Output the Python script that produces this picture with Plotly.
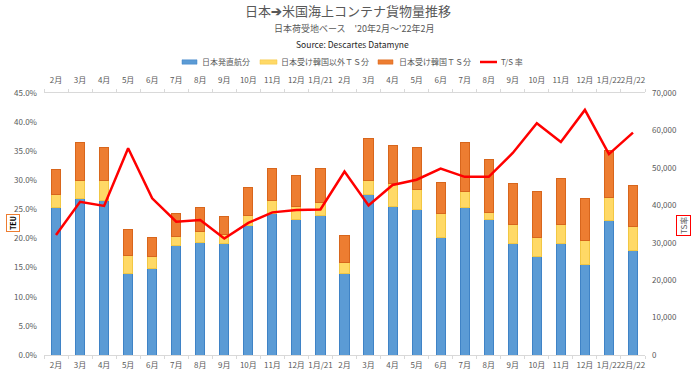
import plotly.graph_objects as go

months = ['2月', '3月', '4月', '5月', '6月', '7月', '8月', '9月', '10月', '11月', '12月', '1月/21',
          '2月', '3月', '4月', '5月', '6月', '7月', '8月', '9月', '10月', '11月', '12月', '1月/22', '2月/22']

direct_teu = [39500, 41900, 41150, 21800, 23000, 29200, 30100, 29800, 34550, 37850, 36250, 37400,
              21700, 43000, 39650, 38750, 31450, 39450, 36250, 29850, 26250, 29850, 24250, 36050, 28050]
ts_other_teu = [3500, 4700, 5400, 4700, 3300, 2400, 3000, 2500, 2850, 3350, 3450, 3400,
                2950, 3750, 6250, 5550, 6400, 4200, 1950, 4900, 5100, 5150, 6300, 6050, 6400]
ts_korea_teu = [6600, 10250, 8900, 7150, 5200, 6250, 6250, 4800, 7300, 8650, 8350, 9000,
                7150, 11050, 9950, 11150, 8350, 13200, 14100, 10950, 12450, 12200, 11350, 12650, 10950]
ts_rate = [20.6, 26.3, 25.6, 35.5, 26.9, 22.9, 23.2, 20.0, 22.7, 24.5, 24.9, 25.0,
           31.5, 25.7, 29.2, 30.1, 32.0, 30.6, 30.6, 34.7, 39.8, 36.6, 42.1, 34.5, 38.2]

series_names = ['日本発直航分', '日本受け韓国以外ＴＳ分', '日本受け韓国ＴＳ分', 'T/S 率']
series_colors = ['#5B9BD5', '#FFD966', '#ED7D31', '#FF0000']
edge_colors = ['#3F83C6', '#F2C744', '#D8661C']

idx = list(range(len(months)))
FONT = 'Noto Sans CJK JP, Noto Sans, sans-serif'
GRAY = '#595959'

# plot-area pixel geometry (for placing legend/annotations)
L, R, T, B = 44, 645, 93, 355


def px(x):
    return (x - L) / (R - L)


def py(y):
    return (B - y) / (B - T)


fig = go.Figure()

for vals, name, col, edge in zip([direct_teu, ts_other_teu, ts_korea_teu], series_names,
                                 series_colors, edge_colors):
    fig.add_trace(go.Bar(x=idx, y=vals, name=name,
                         marker=dict(color=col, line=dict(color=edge, width=1)),
                         showlegend=False, xaxis='x', yaxis='y', width=0.38))

fig.add_trace(go.Scatter(x=idx, y=ts_rate, mode='lines', name=series_names[3],
                         line=dict(color=series_colors[3], width=2.5),
                         showlegend=False, xaxis='x2', yaxis='y2'))

minor_pos = [i - 0.5 for i in range(len(months) + 1)]
xcommon = dict(range=[-0.5, len(months) - 0.5], tickmode='array', tickvals=idx, ticktext=months,
               showline=True, linecolor='#D9D9D9', linewidth=1, showgrid=False, zeroline=False,
               ticks='', tickangle=0, automargin=False,
               tickfont=dict(size=8, color=GRAY, family=FONT),
               minor=dict(tickmode='array', tickvals=minor_pos, ticks='outside', ticklen=3,
                          tickcolor='#D9D9D9', showgrid=False))

# manual legend (symbol rectangles + text)
legend_sym_x = [(182, 197), (260, 277), (378, 393), (480, 497)]
legend_txt_x = [200, 279, 397, 499]
legend_y = 62
shapes = []
annotations = []
for i, ((x0, x1), tx, name, col) in enumerate(zip(legend_sym_x, legend_txt_x, series_names, series_colors)):
    if i < 3:
        shapes.append(dict(type='rect', xref='paper', yref='paper', x0=px(x0), x1=px(x1),
                           y0=py(legend_y + 2.2), y1=py(legend_y - 2.2),
                           fillcolor=col, line=dict(color=edge_colors[i], width=0.5)))
    else:
        shapes.append(dict(type='line', xref='paper', yref='paper', x0=px(x0), x1=px(x1),
                           y0=py(legend_y), y1=py(legend_y), line=dict(color=col, width=2.5)))
    annotations.append(dict(text=name, xref='paper', yref='paper', x=px(tx), y=py(legend_y),
                            showarrow=False, xanchor='left', yanchor='middle',
                            font=dict(size=8, color=GRAY, family=FONT)))

annotations += [
    dict(text='日本<b>➔</b>米国海上コンテナ貨物量推移', xref='paper', yref='paper',
         x=px(348), y=py(10), showarrow=False,
         font=dict(size=13, color=GRAY, family=FONT), xanchor='center', yanchor='middle'),
    dict(text="日本荷受地ベース　'20年2月～'22年2月", xref='paper', yref='paper',
         x=px(354), y=py(28), showarrow=False,
         font=dict(size=9, color=GRAY, family=FONT), xanchor='center', yanchor='middle'),
    dict(text='Source: Descartes Datamyne', xref='paper', yref='paper',
         x=px(352), y=py(44), showarrow=False,
         font=dict(size=8.5, color='#262626', family=FONT), xanchor='center', yanchor='middle'),
    dict(text='<b>TEU</b>', xref='paper', yref='paper', x=px(12.5), y=py(223.5),
         showarrow=False, textangle=-90, font=dict(size=7, color='#000000', family=FONT),
         bordercolor='#ED7D31', borderwidth=1, borderpad=1, xanchor='center', yanchor='middle'),
    dict(text='TS率', xref='paper', yref='paper', x=px(683), y=py(226),
         showarrow=False, textangle=-90, font=dict(size=8, color=GRAY, family=FONT),
         bordercolor='#FF0000', borderwidth=1, borderpad=1, xanchor='center', yanchor='middle'),
]

fig.update_layout(
    width=700, height=377,
    margin=dict(l=L, r=700 - R, t=T, b=377 - B, autoexpand=False),
    paper_bgcolor='white', plot_bgcolor='white',
    barmode='stack', bargap=0.6, showlegend=False,
    font=dict(family=FONT, color=GRAY),
    xaxis=dict(**xcommon, side='bottom', ticklabelstandoff=2),
    xaxis2=dict(**xcommon, side='top', overlaying='x', ticklabelstandoff=6),
    yaxis=dict(side='right', range=[0, 70000], dtick=10000, tickformat=',', showgrid=False,
               zeroline=False, showline=False, tickfont=dict(size=8, color=GRAY, family=FONT),
               ticklabelstandoff=6, automargin=False),
    yaxis2=dict(side='left', overlaying='y', range=[0, 45], dtick=5, tickformat='.1f', ticksuffix='%',
                showgrid=False, zeroline=False, showline=False,
                tickfont=dict(size=8, color=GRAY, family=FONT), ticklabelstandoff=6, automargin=False),
    shapes=shapes,
    annotations=annotations,
)

fig.write_html('out.html', config={'displayModeBar': False},
               post_script="document.body.style.margin='0';")
